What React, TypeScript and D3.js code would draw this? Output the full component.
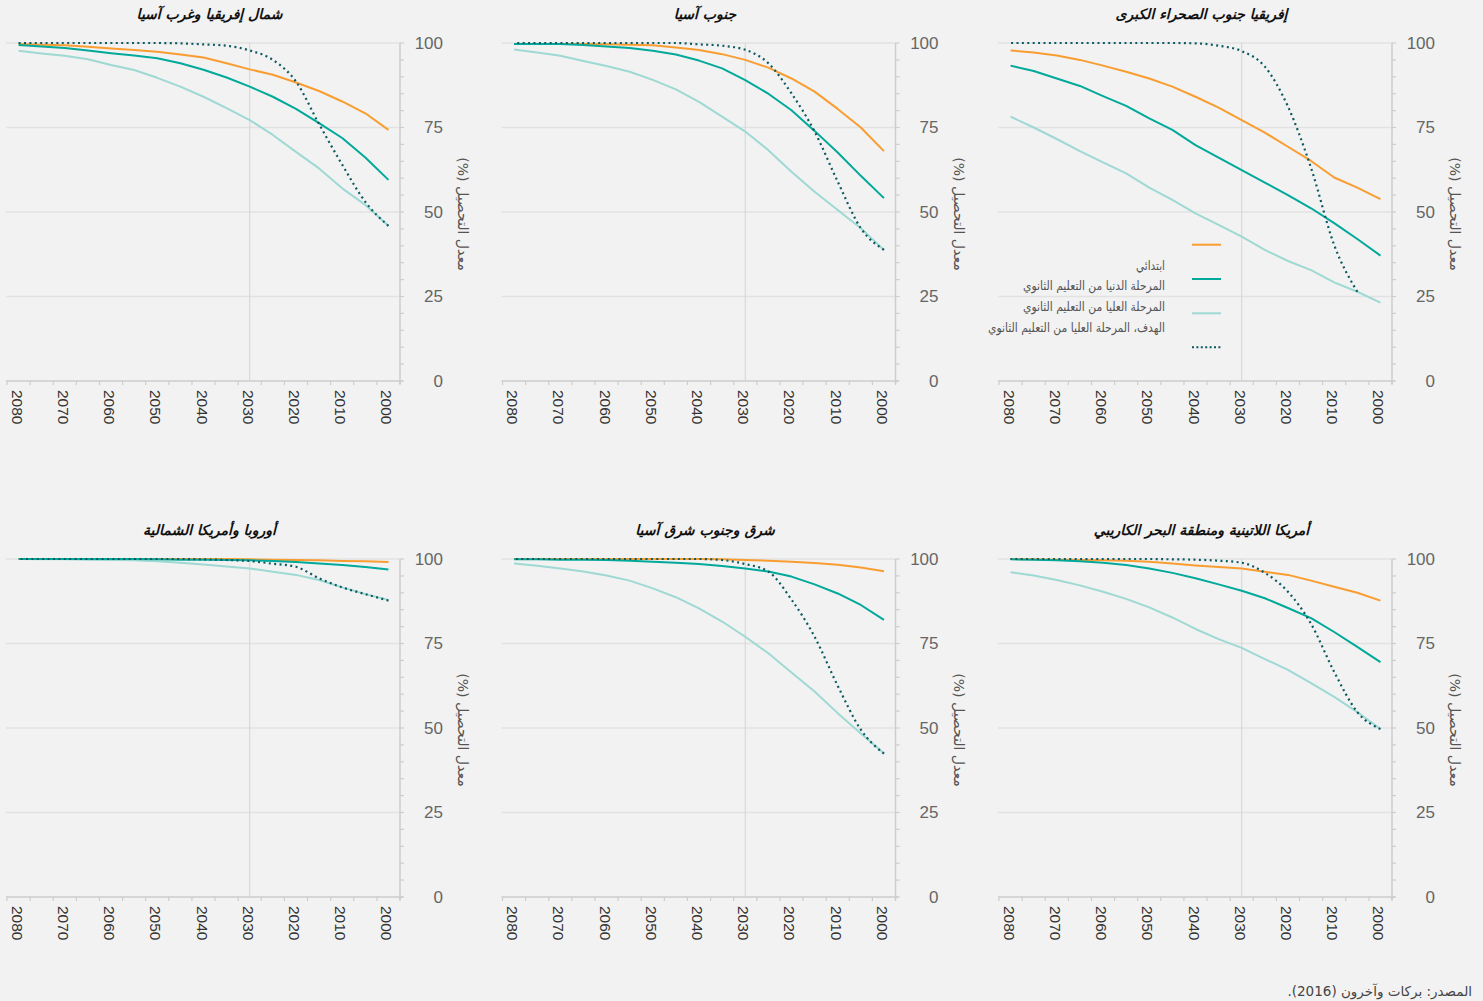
import React, { useEffect } from 'react';
import * as d3 from 'd3';

// ---------- data ----------
const years = [2000, 2005, 2010, 2015, 2020, 2025, 2030, 2035, 2040, 2045, 2050, 2055, 2060, 2065, 2070, 2075, 2080];
const xTickYears = [2080, 2070, 2060, 2050, 2040, 2030, 2020, 2010, 2000];
const yTicks = [0, 25, 50, 75, 100];
const yMinorTicks = [0, 5, 10, 15, 20, 25, 30, 35, 40, 45, 50, 55, 60, 65, 70, 75, 80, 85, 90, 95, 100];
const markerYear = 2030;

const seriesNames = [
  'ابتدائي',
  'المرحلة الدنيا من التعليم الثانوي',
  'المرحلة العليا من التعليم الثانوي',
  'الهدف، المرحلة العليا من التعليم الثانوي',
];

const panelTitles = [
  'شمال إفريقيا وغرب آسيا',
  'جنوب آسيا',
  'إفريقيا جنوب الصحراء الكبرى',
  'أوروبا وأمريكا الشمالية',
  'شرق وجنوب شرق آسيا',
  'أمريكا اللاتينية ومنطقة البحر الكاريبي',
];

// values for years 2000 -> 2080
const nawaPrimary = [74.3, 79.2, 82.7, 85.8, 88.3, 90.6, 92.2, 94.0, 95.7, 96.6, 97.4, 97.9, 98.4, 98.9, 99.3, 99.5, 99.7];
const nawaLower = [59.5, 66.1, 71.9, 76.3, 80.5, 84.1, 87.1, 89.8, 92.1, 94.0, 95.5, 96.3, 97.0, 97.8, 98.5, 99.0, 99.4];
const nawaUpper = [45.9, 52.1, 57.0, 62.9, 67.8, 72.8, 77.2, 80.7, 84.1, 87.1, 89.7, 92.0, 93.5, 95.2, 96.2, 96.9, 97.7];
const nawaTarget = [45.9, 53.0, 64.0, 76.0, 88.6, 95.0, 97.8, 99.2, 99.6, 99.9, 100, 100, 100, 100, 100, 100, 100];

const saPrimary = [68.0, 75.0, 80.5, 85.6, 89.5, 92.7, 95.0, 96.7, 97.9, 98.7, 99.3, 99.5, 99.6, 99.7, 99.7, 99.7, 99.7];
const saLower = [54.1, 60.7, 67.6, 74.0, 80.1, 85.0, 89.0, 92.5, 94.8, 96.6, 97.7, 98.5, 99.0, 99.4, 99.7, 99.7, 99.7];
const saUpper = [38.8, 45.2, 50.6, 56.0, 61.9, 68.3, 73.8, 78.2, 82.6, 86.3, 89.1, 91.5, 93.2, 94.7, 96.2, 97.2, 98.1];
const saTarget = [38.8, 45.2, 59.0, 73.8, 85.1, 94.0, 98.0, 99.2, 99.6, 100, 100, 100, 100, 100, 100, 100, 100];

const ssaPrimary = [53.8, 57.2, 60.2, 65.1, 69.3, 73.5, 77.2, 80.9, 84.1, 87.1, 89.5, 91.5, 93.3, 95.0, 96.3, 97.2, 97.8];
const ssaLower = [37.1, 42.0, 46.7, 51.1, 55.0, 58.7, 62.4, 66.1, 69.8, 74.3, 77.7, 81.4, 84.3, 87.3, 89.5, 91.7, 93.3];
const ssaUpper = [23.2, 26.4, 29.2, 32.8, 35.5, 38.8, 42.7, 46.2, 49.6, 53.6, 57.2, 61.4, 64.7, 68.0, 71.6, 75.0, 78.2];
const ssaTarget = [null, 26.4, 40.2, 63.0, 81.2, 93.0, 97.6, 99.2, 99.9, 100, 100, 100, 100, 100, 100, 100, 100];

const enaPrimary = [99.1, 99.3, 99.4, 99.6, 99.7, 99.8, 99.9, 100, 100, 100, 100, 100, 100, 100, 100, 100, 100];
const enaLower = [96.9, 97.6, 98.2, 98.7, 99.1, 99.4, 99.6, 99.7, 99.8, 99.8, 99.9, 100, 100, 100, 100, 100, 100];
const enaUpper = [87.9, 89.6, 91.6, 93.8, 95.3, 96.2, 97.2, 97.8, 98.4, 98.9, 99.3, 99.6, 99.7, 99.8, 99.9, 99.9, 100];
const enaTarget = [87.7, 89.6, 91.6, 94.3, 97.7, 98.6, 99.4, 99.7, 99.9, 100, 100, 100, 100, 100, 100, 100, 100];

const esaPrimary = [96.4, 97.5, 98.3, 98.8, 99.2, 99.5, 99.7, 99.9, 100, 100, 100, 100, 100, 100, 100, 100, 100];
const esaLower = [82.0, 86.4, 89.8, 92.5, 94.8, 96.3, 97.2, 97.9, 98.5, 98.9, 99.2, 99.5, 99.7, 99.8, 99.8, 99.9, 99.9];
const esaUpper = [42.5, 48.4, 54.4, 60.8, 66.4, 72.1, 77.0, 81.5, 85.4, 88.7, 91.3, 93.6, 95.1, 96.3, 97.2, 98.0, 98.7];
const esaTarget = [42.4, 49.5, 62.5, 77.0, 88.0, 96.3, 98.5, 99.7, 100, 100, 100, 100, 100, 100, 100, 100, 100];

const lacPrimary = [87.7, 90.0, 91.8, 93.6, 95.3, 96.2, 97.2, 97.6, 98.1, 98.7, 99.2, 99.5, 99.6, 99.7, 99.8, 99.9, 100];
const lacLower = [69.5, 74.0, 78.4, 82.5, 85.5, 88.4, 90.6, 92.5, 94.3, 95.9, 97.2, 98.2, 98.9, 99.3, 99.6, 99.8, 99.9];
const lacUpper = [49.7, 54.7, 59.2, 63.3, 67.2, 70.4, 73.7, 76.3, 79.3, 82.7, 85.7, 88.2, 90.3, 92.2, 93.8, 95.1, 96.1];
const lacTarget = [49.7, 54.7, 66.6, 80.8, 90.3, 95.9, 98.9, 99.5, 99.8, 99.9, 100, 100, 100, 100, 100, 100, 100];

const panelSeries = [
  [nawaPrimary, nawaLower, nawaUpper, nawaTarget],
  [saPrimary, saLower, saUpper, saTarget],
  [ssaPrimary, ssaLower, ssaUpper, ssaTarget],
  [enaPrimary, enaLower, enaUpper, enaTarget],
  [esaPrimary, esaLower, esaUpper, esaTarget],
  [lacPrimary, lacLower, lacUpper, lacTarget],
];

const sourceText = 'المصدر: بركات وآخرون (2016).';
const axisTitle = 'معدل التحصيل (%)';

// ---------- styles ----------
const COLORS = ['#f99d31', '#00a99a', '#9ed9d3', '#0c5a61'];
const BG = '#f2f2f2';
const AR_FONT = '"DejaVu Sans", "Noto Sans", sans-serif';
const NUM_FONT = '"Liberation Sans", Arial, sans-serif';
const LEGEND_WIDTHS = [29, 142, 142, 177];

const W = 1483;
const H = 1001;
const PW = 393;
const PH = 338;
const colX = [7, 502.5, 999];
const rowY = [43, 559];

function Panel({ idx }: { idx: number }) {
  const x0 = colX[idx % 3];
  const y0 = rowY[Math.floor(idx / 3)];
  const xDomain = years.slice().reverse().map(String);
  const x = d3.scaleBand().domain(xDomain).range([x0, x0 + PW]).padding(0);
  const bw = x.bandwidth();
  const cx = (yr: number) => (x(String(yr)) as number) + bw / 2;
  const y = d3.scaleLinear().domain([0, 100]).range([y0 + PH, y0]);
  const axisX = x0 + PW;
  const bottom = y0 + PH;

  const lineGen = d3
    .line()
    .defined((d: any) => d[1] !== null)
    .x((d: any) => cx(d[0]))
    .y((d: any) => y(d[1]));
  const smoothGen = d3
    .line()
    .defined((d: any) => d[1] !== null)
    .x((d: any) => cx(d[0]))
    .y((d: any) => y(d[1]))
    .curve(d3.curveMonotoneX);

  const series = panelSeries[idx];
  const drawOrder = [2, 0, 1, 3];

  return (
    <g>
      {yTicks.filter((t) => t > 0).map((t) => (
        <line key={'g' + t} x1={x0 - 1} x2={axisX} y1={y(t)} y2={y(t)} stroke="#e2e2e2" strokeWidth={1.5} />
      ))}
      <line x1={cx(markerYear)} x2={cx(markerYear)} y1={y0} y2={bottom} stroke="#d4d4d4" strokeWidth={1} />
      {drawOrder.map((s) => {
        const pts: any[] = years.map((yr, i) => [yr, series[s][i]]);
        const d = s === 3 ? smoothGen(pts) : lineGen(pts);
        return (
          <path
            key={'s' + s}
            d={d || ''}
            fill="none"
            stroke={COLORS[s]}
            strokeWidth={s === 3 ? 2.2 : 2}
            strokeDasharray={s === 3 ? '2 3.4' : undefined}
            strokeLinejoin="round"
          />
        );
      })}
      {/* x axis */}
      <line x1={x0 - 1} x2={axisX + 3} y1={bottom} y2={bottom} stroke="#cdcdcd" strokeWidth={1.5} />
      {d3.range(years.length + 1).map((i) => (
        <line key={'xt' + i} x1={x0 + i * bw} x2={x0 + i * bw} y1={bottom} y2={bottom + 4} stroke="#cdcdcd" strokeWidth={1.2} />
      ))}
      {xTickYears.map((yr) => (
        <text
          key={'xl' + yr}
          transform={`translate(${cx(yr) - 1.5},${bottom + 9}) rotate(90)`}
          fontFamily={NUM_FONT}
          fontSize={15.5}
          fill="#333"
          textAnchor="start"
          dominantBaseline="central"
        >
          {yr}
        </text>
      ))}
      {/* y axis */}
      <line x1={axisX} x2={axisX} y1={y0} y2={bottom + 3} stroke="#cdcdcd" strokeWidth={1.5} />
      {yMinorTicks.map((t) => (
        <line key={'ym' + t} x1={axisX} x2={axisX + 4} y1={y(t)} y2={y(t)} stroke="#cdcdcd" strokeWidth={1.2} />
      ))}
      {yTicks.map((t) => (
        <text
          key={'yl' + t}
          x={axisX + 43}
          y={y(t)}
          fontFamily={NUM_FONT}
          fontSize={17}
          fill="#666"
          textAnchor="end"
          dominantBaseline="central"
        >
          {t}
        </text>
      ))}
      <text
        transform={`translate(${axisX + 63},${y0 + PH / 2 + 2}) rotate(90)`}
        fontFamily={AR_FONT}
        fontSize={14}
        fill="#555"
        textAnchor="middle"
        direction="rtl"
        style={{ unicodeBidi: 'embed' } as any}
        dominantBaseline="central"
      >
        {axisTitle}
      </text>
      <text
        x={x0 + PW / 2 + 6}
        y={y0 - 29}
        fontFamily={AR_FONT}
        fontSize={14}
        fontWeight="bold"
        fontStyle="italic"
        fill="#111"
        textAnchor="middle"
        direction="rtl"
        dominantBaseline="central"
      >
        {panelTitles[idx]}
      </text>
    </g>
  );
}

function Legend() {
  const x0 = colX[2];
  const y0 = rowY[0];
  const lineY = [201.7, 236, 270.3, 304.3];
  const textY = [222, 242.5, 263.5, 284];
  return (
    <g>
      {seriesNames.map((name, i) => (
        <g key={'lg' + i}>
          <line
            x1={x0 + 193}
            x2={x0 + 222}
            y1={y0 + lineY[i]}
            y2={y0 + lineY[i]}
            stroke={COLORS[i]}
            strokeWidth={2}
            strokeDasharray={i === 3 ? '2 2.4' : undefined}
          />
          <text
            x={x0 + 166 - LEGEND_WIDTHS[i]}
            y={y0 + textY[i]}
            fontFamily={AR_FONT}
            fontSize={12.5}
            fill="#555"
            textAnchor="start"
            textLength={LEGEND_WIDTHS[i]}
            lengthAdjust="spacingAndGlyphs"
            dominantBaseline="central"
          >
            {name}
          </text>
        </g>
      ))}
    </g>
  );
}

export default function App() {
  useEffect(() => {
    document.body.style.margin = '0';
    document.body.style.background = BG;
  }, []);
  return (
    <svg width={W} height={H} style={{ display: 'block', position: 'absolute', left: 0, top: 0 }}>
      <rect x={0} y={0} width={W} height={H} fill={BG} />
      {panelTitles.map((_, i) => (
        <Panel key={i} idx={i} />
      ))}
      <Legend />
      <text
        x={1472}
        y={991}
        fontFamily={AR_FONT}
        fontSize={13.5}
        fill="#444"
        textAnchor="start"
        direction="rtl"
        dominantBaseline="central"
      >
        {sourceText}
      </text>
    </svg>
  );
}
